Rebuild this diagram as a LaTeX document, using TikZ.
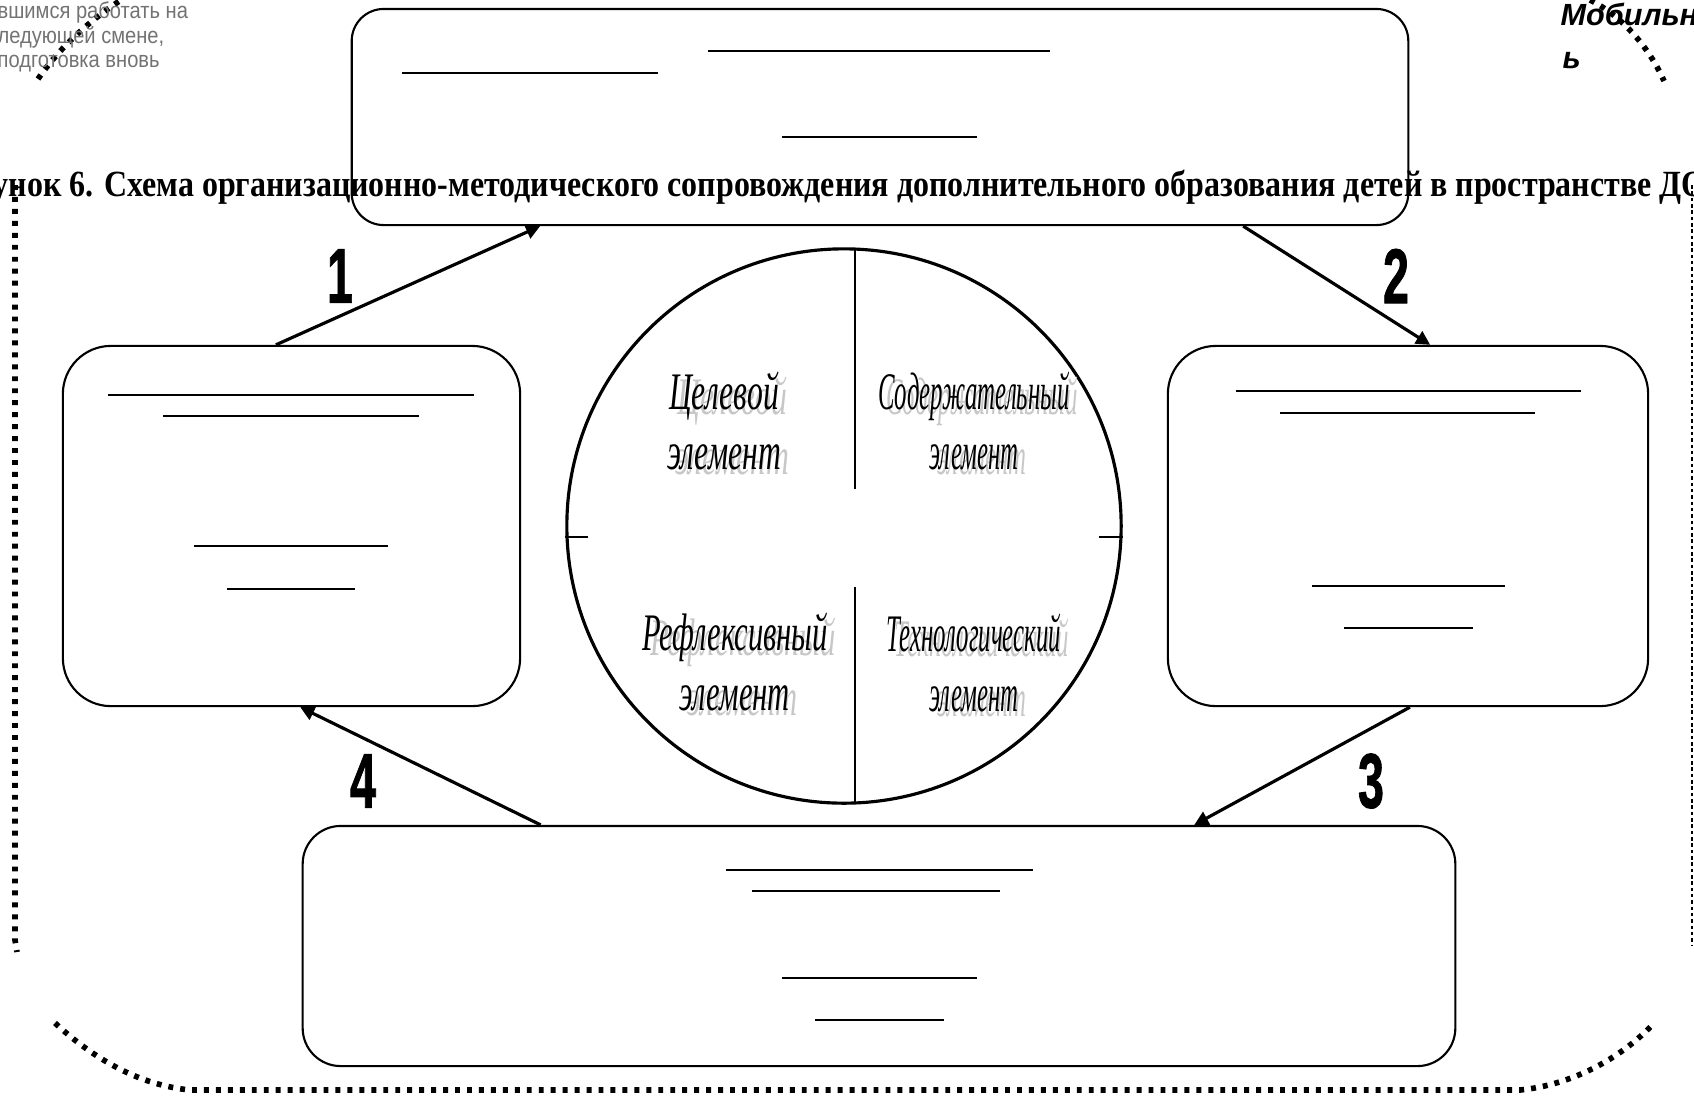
\documentclass[tikz,border=0pt]{standalone}
\usepackage{fontspec}
\setmainfont{Liberation Serif}
\newfontfamily\sansfnt{Liberation Sans}
\newfontfamily\numfnt[FakeBold=1.5]{Liberation Sans Bold}
\usetikzlibrary{arrows.meta,calc}

\tikzset{
	block/.style={draw,line width=0.6pt,rounded corners=#1,inner sep=0pt},
	block/.default=0.35cm,
	blank/.style={line width=0.6pt},
	elt/.style={font=\itshape\fontsize{15}{17}\selectfont,align=center,inner sep=0pt},
	eltshade/.style={elt,black!22},
	num/.style={font=\numfnt\fontsize{22}{22}\selectfont,xscale=0.6,inner sep=0pt},
	dots/.style={line width=1.6pt,dash pattern=on 1.4pt off 2pt},
	fine dots/.style={line width=0.6pt,dash pattern=on 1pt off 0.8pt}
}

\begin{document}
\begin{tikzpicture}
[>={Triangle[length=4pt,width=4pt]},x=0.01cm,y=-0.01cm]

	\useasboundingbox (0,0) rectangle (1694,1096);
	\clip (0,0) rectangle (1694,1096);
	%\draw[gray,step=100] (0,0) grid (1694,1096);

	% blocks of the cycle
	\node[block=0.32cm,minimum width=10.56cm,minimum height=2.16cm] (top) at (880,117) {};
	\node[block=0.48cm,minimum width=4.57cm,minimum height=3.6cm] (left) at (291.5,526) {};
	\node[block=0.48cm,minimum width=4.8cm,minimum height=3.6cm] (right) at (1408,526) {};
	\node[block=0.38cm,minimum width=11.52cm,minimum height=2.4cm] (bottom) at (879,946) {};

	% empty lines to fill in
	\draw[blank] (708,51) -- (1050,51);
	\draw[blank] (402,73) -- (658,73);
	\draw[blank] (782,137) -- (977,137);

	\draw[blank] (108,395) -- (474,395);
	\draw[blank] (163,416) -- (419,416);
	\draw[blank] (194,546) -- (388,546);
	\draw[blank] (227,589) -- (355,589);

	\draw[blank] (1236,391) -- (1581,391);
	\draw[blank] (1280,413) -- (1535,413);
	\draw[blank] (1312,586) -- (1505,586);
	\draw[blank] (1344,628) -- (1473,628);

	\draw[blank] (726,870) -- (1033,870);
	\draw[blank] (752,891) -- (1000,891);
	\draw[blank] (782,978) -- (977,978);
	\draw[blank] (815,1020) -- (944,1020);

	% circle of elements
	\node[draw,circle,line width=0.9pt,minimum size=5.54cm,inner sep=0pt] (core) at (844,526) {};
	\draw[line width=0.5pt] (855,249) -- (855,489);
	\draw[line width=0.5pt] (855,587) -- (855,803);
	\draw[line width=0.5pt] (core.west) ++(0,11) -- ++(23,0);
	\draw[line width=0.5pt] (core.east) ++(0,11) -- ++(-24,0);

	\node[eltshade,xscale=0.6] (aimS) at (732,426) {Целевой\\элемент};
	\node[elt,xscale=0.6] (aim) at (724,421) {Целевой\\элемент};
	\node[eltshade,xscale=0.47] (contS) at (982,426) {Содержательный\\элемент};
	\node[elt,xscale=0.47] (cont) at (974,421) {Содержательный\\элемент};
	\node[eltshade,xscale=0.58] (reflS) at (743,667) {Рефлексивный\\элемент};
	\node[elt,xscale=0.58] (refl) at (735,662) {Рефлексивный\\элемент};
	\node[eltshade,xscale=0.47] (techS) at (982,668) {Технологический\\элемент};
	\node[elt,xscale=0.47] (tech) at (974,663) {Технологический\\элемент};

	% arrows
	\draw[->,line width=0.9pt] ($(left.north west)!0.466!(left.north east)$) -- ($(top.south west)!0.179!(top.south east)$);
	\draw[->,line width=0.9pt] ($(top.south west)!0.843!(top.south east)$) -- ($(right.north west)!0.546!(right.north east)$);
	\draw[->,line width=0.9pt] ($(right.south west)!0.504!(right.south east)$) -- ($(bottom.north west)!0.773!(bottom.north east)$);
	\draw[->,line width=0.9pt] ($(bottom.north west)!0.207!(bottom.north east)$) -- ($(left.south west)!0.519!(left.south east)$);

	\node[num] (n1) at (340,276) {1};
	\node[num] (n2) at (1396,276) {2};
	\node[num] (n3) at (1371,781) {3};
	\node[num] (n4) at (363,781) {4};

	% caption
	\node[anchor=base west,inner sep=0pt] (cap) at (-8,196)
	{\resizebox{17.13cm}{\height}{\fontsize{10.5}{12}\selectfont\bfseries унок 6. Схема организационно-методического сопровождения дополнительного образования детей в пространстве ДО}};

	% dotted frame
	\draw[dots] (38,79) .. controls (60,47) and (90,20) .. (124,-2);
	\draw[dots] (1590,0) .. controls (1620,15) and (1648,45) .. (1664,81);
	\draw[dots] (15,185) -- (15,940) -- (17,952);
	\draw[fine dots] (1692,185) -- (1692,945);
	\draw[dots] (55,1023) .. controls (95,1060) and (140,1085) .. (190,1090) -- (1520,1090) .. controls (1570,1085) and (1620,1060) .. (1655,1022);

	% cut text at the top corners
	\node[anchor=north west,inner sep=0pt,align=left,text=black!55,xscale=0.88,font=\sansfnt\fontsize{6.5}{7}\selectfont] (note) at (-3,1)
	{вшимся работать на\\ледующей смене,\\подготовка вновь};
	\node[anchor=base west,inner sep=0pt,font=\sansfnt\bfseries\itshape\fontsize{8.7}{10}\selectfont] (mob) at (1560,25) {Мобильн};
	\node[anchor=base west,inner sep=0pt,font=\sansfnt\bfseries\itshape\fontsize{8.7}{10}\selectfont] (mob2) at (1562,68) {ь};
\end{tikzpicture}
\end{document}
